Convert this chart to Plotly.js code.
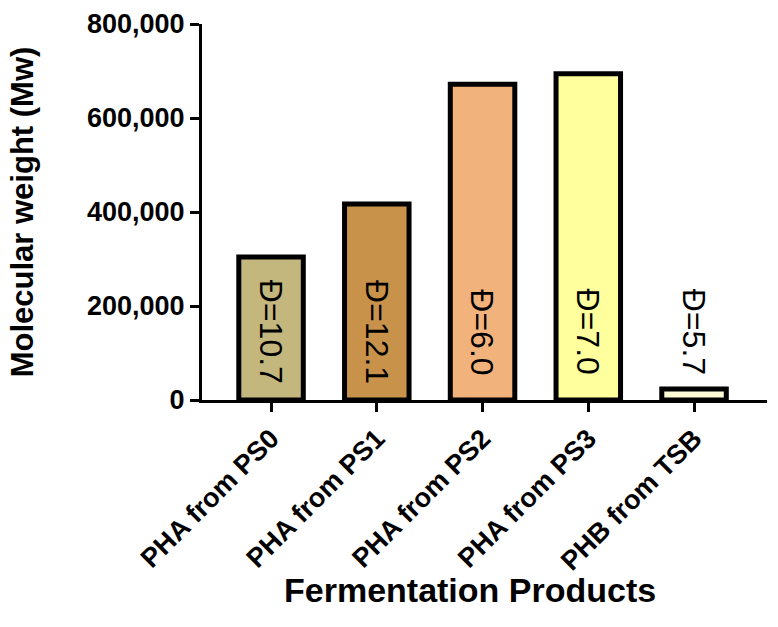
<!DOCTYPE html>
<html>
<head>
<meta charset="utf-8">
<script src="https://cdn.plot.ly/plotly-3.0.1.min.js"></script>
<style>
    html, body { margin: 0; padding: 0; background: #fff; }
    #chart { width: 778px; height: 627px; }
</style>
</head>
<body>
<div id="chart"></div>
<script>
// --- DATA ---
const categories = ["PHA from PS0", "PHA from PS1", "PHA from PS2", "PHA from PS3", "PHB from TSB"];
const molecularWeight = [304000, 417000, 672000, 694000, 23500];
const dispersity = ["10.7", "12.1", "6.0", "7.0", "5.7"];

// --- STYLE ---
const barColors = ["#c4b77d", "#c8924b", "#f1b27b", "#ffff9d", "#fdfbd6"];
const FONT = "Liberation Sans, Arial, sans-serif";
const LABEL_Y = 145000; // where the Đ labels sit (data units)

const xIdx = categories.map((c, i) => i);

let bars = {
    type: 'bar',
    x: xIdx,
    y: molecularWeight,
    width: 0.61,
    marker: {
        color: barColors,
        line: { color: '#000', width: 5 }
    },
    hoverinfo: 'skip'
};

// Đ labels, rotated to read top to bottom
let labels = categories.map((c, i) => ({
    x: i,
    y: LABEL_Y,
    xref: 'x',
    yref: 'y',
    text: 'Đ=' + dispersity[i],
    showarrow: false,
    textangle: 90,
    font: { family: FONT, size: 32, color: '#000' }
}));

// x axis title placed by hand (sits a bit left of the plot centre in the original)
labels.push({
    x: 0.474,
    y: -0.505,
    xref: 'paper',
    yref: 'paper',
    xanchor: 'center',
    yanchor: 'middle',
    text: 'Fermentation Products',
    showarrow: false,
    font: { family: FONT, size: 34, color: '#000', weight: 'bold' }
});

let layout = {
    width: 778,
    height: 627,
    margin: { l: 202, r: 11, t: 24, b: 227 },
    paper_bgcolor: '#fff',
    plot_bgcolor: '#fff',
    showlegend: false,
    font: { family: FONT, color: '#000' },
    xaxis: {
        range: [-0.653, 4.69],
        tickmode: 'array',
        tickvals: xIdx,
        ticktext: categories,
        tickangle: -45,
        tickfont: { family: FONT, size: 27, color: '#000', weight: 'bold' },
        ticks: 'outside',
        ticklen: 9,
        tickwidth: 3,
        tickcolor: '#000',
        showline: true,
        linecolor: '#000',
        linewidth: 3,
        showgrid: false,
        zeroline: false
    },
    yaxis: {
        range: [0, 800000],
        tickvals: [0, 200000, 400000, 600000, 800000],
        ticktext: ['0', '200,000', '400,000', '600,000', '800,000'],
        tickfont: { family: FONT, size: 27, color: '#000', weight: 'bold' },
        ticks: 'outside',
        ticklen: 9,
        tickwidth: 3,
        tickcolor: '#000',
        showline: true,
        linecolor: '#000',
        linewidth: 3,
        showgrid: false,
        zeroline: false,
        title: {
            text: 'Molecular weight (Mw)',
            font: { family: FONT, size: 31, color: '#000', weight: 'bold' },
            standoff: 45
        }
    },
    annotations: labels
};

Plotly.newPlot('chart', [bars], layout, { displayModeBar: false, staticPlot: true });
</script>
</body>
</html>
